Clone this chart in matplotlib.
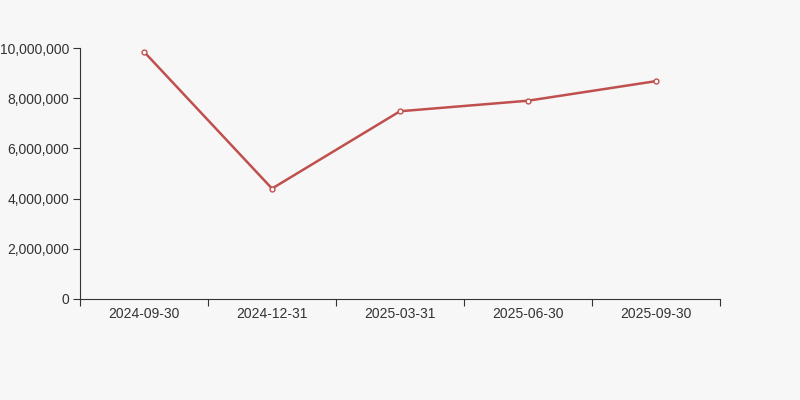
import matplotlib
matplotlib.use("Agg")
import matplotlib.pyplot as plt
from matplotlib.ticker import FuncFormatter

plt.rcParams["font.family"] = ["Liberation Sans", "DejaVu Sans"]

dates = ["2024-09-30", "2024-12-31", "2025-03-31", "2025-06-30", "2025-09-30"]
values = [9850000, 4400000, 7480000, 7900000, 8680000]

bg = "#f7f7f7"
fig = plt.figure(figsize=(8, 4), dpi=100, facecolor=bg)
ax = fig.add_axes([0.1, 0.2525, 0.8, 0.6275], facecolor=bg)

x = [i + 0.5 for i in range(len(dates))]
ax.plot(x, values, color="#c0504d", lw=1.8, marker="o", ms=3.5,
        markerfacecolor="white", markeredgecolor="#c0504d", markeredgewidth=1)

ax.set_xlim(0, len(dates))
ax.set_ylim(0, 10000000)
ax.set_xticks(range(len(dates) + 1))
ax.set_xticklabels([])
ax.set_xticks(x, minor=True)
ax.set_xticklabels(dates, minor=True)
ax.tick_params(axis="x", which="minor", length=0, labelsize=10, colors="#333333", pad=6)
ax.tick_params(axis="x", which="major", length=5, color="#333333")
ax.set_yticks(range(0, 10000001, 2000000))
ax.yaxis.set_major_formatter(FuncFormatter(lambda v, p: f"{int(v):,}"))
ax.tick_params(axis="y", length=5, pad=3, labelsize=10, colors="#333333", color="#333333")

for s in ["top", "right"]:
    ax.spines[s].set_visible(False)
ax.spines["left"].set_color("#333333")
ax.spines["bottom"].set_color("#333333")

fig.savefig("out.png", facecolor=bg)
